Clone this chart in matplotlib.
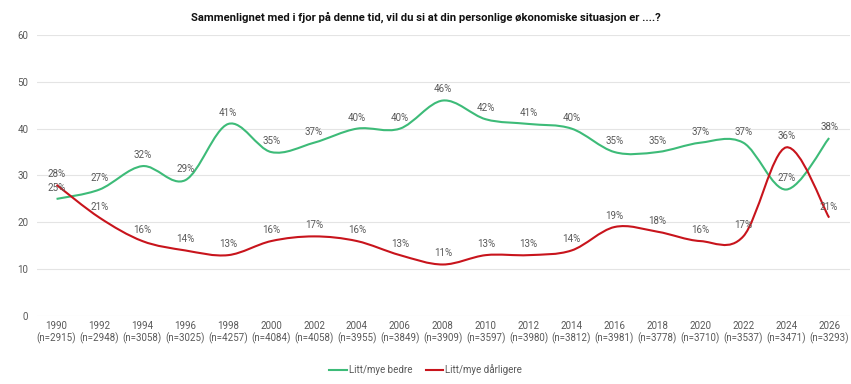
import matplotlib.pyplot as plt
from matplotlib.path import Path
from matplotlib.patches import PathPatch
from matplotlib.lines import Line2D

years = [1990, 1992, 1994, 1996, 1998, 2000, 2002, 2004, 2006, 2008,
         2010, 2012, 2014, 2016, 2018, 2020, 2022, 2024, 2026]
n_values = [2915, 2948, 3058, 3025, 4257, 4084, 4058, 3955, 3849, 3909,
            3597, 3980, 3812, 3981, 3778, 3710, 3537, 3471, 3293]
bedre = [25, 27, 32, 29, 41, 35, 37, 40, 40, 46, 42, 41, 40, 35, 35, 37, 37, 27, 38]
darligere = [28, 21, 16, 14, 13, 16, 17, 16, 13, 11, 13, 13, 14, 19, 18, 16, 17, 36, 21]

green = "#3dbb78"
red = "#c8141c"
grey = "#595959"

plt.rcParams["font.family"] = ["Roboto", "DejaVu Sans"]


def smooth_path(xs, ys):
    # catmull-rom turned into bezier segments (like excel "smoothed line")
    pts = list(zip(xs, ys))
    verts = [pts[0]]
    codes = [Path.MOVETO]
    for i in range(len(pts) - 1):
        p0 = pts[i - 1] if i > 0 else pts[i]
        p1 = pts[i]
        p2 = pts[i + 1]
        p3 = pts[i + 2] if i + 2 < len(pts) else pts[i + 1]
        c1 = (p1[0] + (p2[0] - p0[0]) / 6, p1[1] + (p2[1] - p0[1]) / 6)
        c2 = (p2[0] - (p3[0] - p1[0]) / 6, p2[1] - (p3[1] - p1[1]) / 6)
        verts += [c1, c2, p2]
        codes += [Path.CURVE4] * 3
    return Path(verts, codes)


fig = plt.figure(figsize=(8.51, 3.84), dpi=100)
ax = fig.add_axes([0.043, 0.177, 0.956, 0.732])

for vals, col in [(bedre, green), (darligere, red)]:
    patch = PathPatch(smooth_path(years, vals), facecolor="none", edgecolor=col,
                      lw=1.5, transform=ax.transData, zorder=3)
    ax.add_patch(patch)
    for x, v in zip(years, vals):
        ax.annotate(f"{v}%", (x, v), xytext=(0, 8), textcoords="offset points",
                    ha="center", va="center", fontsize=7, color=grey, zorder=4)

ax.set_xlim(1989.07, 2026.98)
ax.set_ylim(0, 60)
ax.set_yticks(range(0, 61, 10))
ax.set_xticks(years)
ax.set_xticklabels([f"{y}\n(n={n})" for y, n in zip(years, n_values)])
ax.tick_params(length=0, labelsize=7, colors=grey)
ax.tick_params(axis="y", pad=6)
ax.grid(axis="y", color="#e4e4e4", lw=0.8)
ax.set_axisbelow(True)
for s in ax.spines.values():
    s.set_visible(False)

fig.text(0.5, 0.955, "Sammenlignet med i fjor på denne tid, vil du si at din personlige økonomiske situasjon er ....?",
         ha="center", va="center", fontsize=8.1, fontweight="bold", color="#111111")

handles = [Line2D([], [], color=green, lw=1.5), Line2D([], [], color=red, lw=1.5)]
fig.legend(handles, ["Litt/mye bedre", "Litt/mye dårligere"], loc="center",
           bbox_to_anchor=(0.5, 0.037), ncol=2, frameon=False, fontsize=7,
           labelcolor=grey, handlelength=1.8, columnspacing=1.4, handletextpad=0.2)

fig.savefig("out.png", dpi=100)
